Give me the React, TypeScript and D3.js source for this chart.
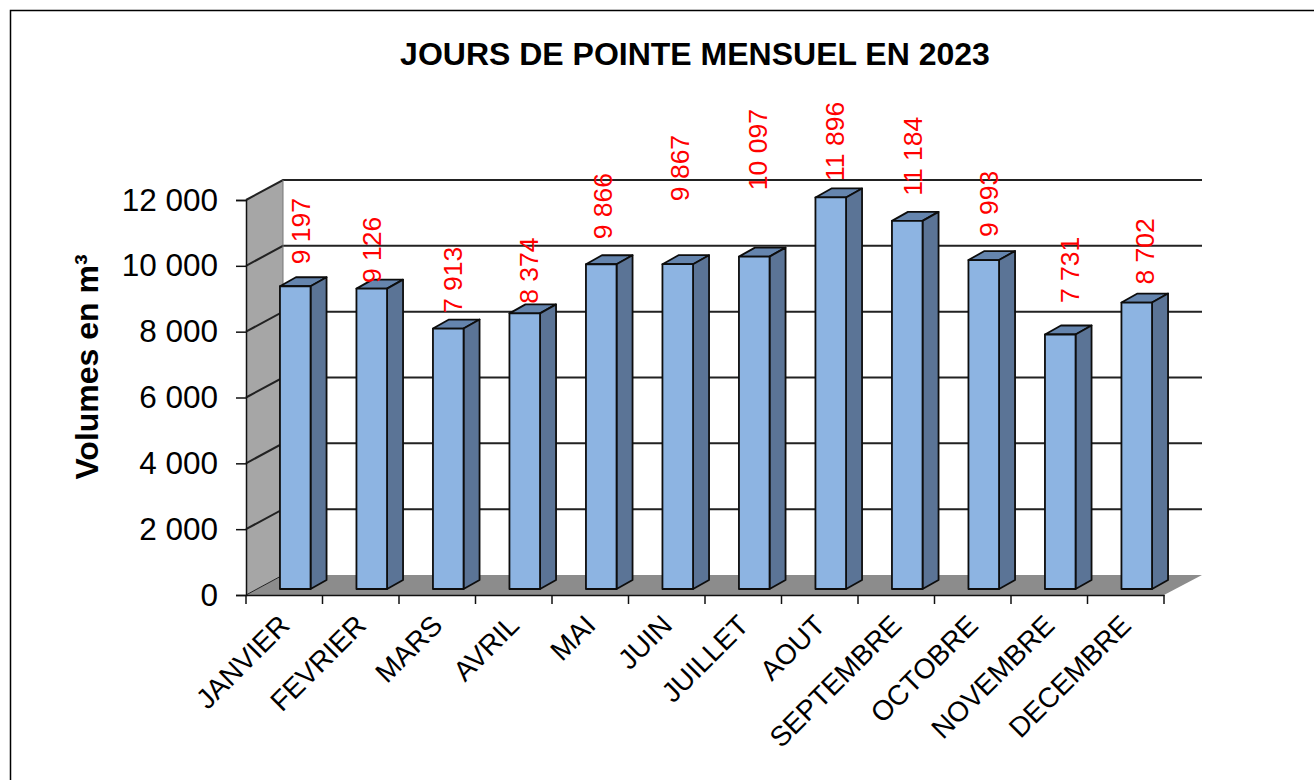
import React, { useEffect, useRef } from "react";
import * as d3 from "d3";

const months = ["JANVIER", "FEVRIER", "MARS", "AVRIL", "MAI", "JUIN", "JUILLET", "AOUT", "SEPTEMBRE", "OCTOBRE", "NOVEMBRE", "DECEMBRE"];
const volumes = [9197, 9126, 7913, 8374, 9866, 9867, 10097, 11896, 11184, 9993, 7731, 8702];
const volumeLabels = ["9 197", "9 126", "7 913", "8 374", "9 866", "9 867", "10 097", "11 896", "11 184", "9 993", "7 731", "8 702"];
const yTicks = [0, 2000, 4000, 6000, 8000, 10000, 12000];

// the labels were placed by hand in the original, so they do not follow the bars
const labelShiftX = [6.75, 1.25, 5.25, 5.25, 2.25, 2.75, 4.25, 5.25, 6.75, 6.25, 10.75, 9.25];
const labelShiftY = [-22, -5.5, -15.5, -9.5, -25, -63, -66.5, -16.5, -25, -23, -31.5, -18];

const FONT = "'Liberation Sans', Arial, sans-serif";

export default function App() {
  const ref = useRef<SVGSVGElement>(null);

  useEffect(() => {
    const svg = d3.select(ref.current);
    svg.selectAll("*").remove();

    const left = 246, right = 1164, bottom = 595, top = 200;
    const depthX = 37, depthY = 20;        // wall and floor depth
    const barInX = 11, barInY = 6;         // bars stand a little inside the floor
    const barDepthX = 16, barDepthY = 9;

    const x = d3.scaleBand<string>().domain(months).range([left, right]).paddingInner(0.6).paddingOuter(0.3);
    const slot = d3.scaleBand<string>().domain(months).range([left, right]);
    const y = d3.scaleLinear().domain([0, 12000]).range([bottom, top]);
    const pts = (p: number[][]) => p.map(d => d.join(",")).join(" ");

    // outer frame
    svg.append("path").attr("d", "M10.5,780V10.5H1314").attr("fill", "none").attr("stroke", "#000").attr("stroke-width", 1.5);

    // walls
    svg.append("polygon")
      .attr("points", pts([[left, bottom], [left + depthX, bottom - depthY], [left + depthX, top - depthY], [left, top]]))
      .attr("fill", "#a6a6a6");
    svg.append("polygon")
      .attr("points", pts([[left, bottom], [right, bottom], [right + depthX + 1, bottom - depthY], [left + depthX, bottom - depthY]]))
      .attr("fill", "#8c8c8c");

    // gridlines on the back wall and side wall
    svg.append("g").selectAll("path").data(yTicks.slice(1)).join("path")
      .attr("d", d => `M${left},${y(d)}L${left + depthX},${y(d) - depthY}H${right + depthX + 1}`)
      .attr("fill", "none").attr("stroke", "#222").attr("stroke-width", 2);
    svg.append("line")
      .attr("x1", left).attr("y1", bottom).attr("x2", left + depthX).attr("y2", bottom - depthY)
      .attr("stroke", "#222").attr("stroke-width", 1);
    svg.append("line")
      .attr("x1", left + depthX).attr("y1", top - depthY).attr("x2", left + depthX).attr("y2", bottom - depthY)
      .attr("stroke", "#777").attr("stroke-width", 1);

    // axes
    const yAxis = svg.append("g").attr("transform", `translate(${left},0)`)
      .call(d3.axisLeft(y).tickValues(yTicks).tickSize(10).tickPadding(18)
        .tickFormat(d => d3.format(",")(d as number).replace(",", " ")));
    yAxis.selectAll(".domain").attr("stroke", "#111").attr("stroke-width", 1.5);
    yAxis.selectAll(".tick line").attr("stroke", "#111").attr("stroke-width", 1.5);
    yAxis.selectAll(".tick text").attr("font-family", FONT).attr("font-size", 31.5).attr("fill", "#000");

    const xAxis = svg.append("g").attr("transform", `translate(0,${bottom})`)
      .call(d3.axisBottom(slot).tickValues([]).tickSizeOuter(0));
    xAxis.selectAll(".domain").attr("stroke", "#111").attr("stroke-width", 1.5);
    const edges = d3.range(months.length + 1).map(i => left + i * slot.step());
    svg.append("g").selectAll("line").data(edges).join("line")
      .attr("x1", d => d).attr("x2", d => d).attr("y1", bottom).attr("y2", bottom + 9)
      .attr("stroke", "#111").attr("stroke-width", 1.5);

    svg.append("g").selectAll("text").data(months).join("text")
      .attr("transform", m => `translate(${(slot(m) as number) + slot.bandwidth() / 2 + 7},${bottom + 32}) rotate(-45)`)
      .attr("text-anchor", "end")
      .attr("font-family", FONT).attr("font-size", 28).attr("fill", "#000")
      .text(m => m);

    // bars
    const bars = svg.append("g").selectAll("g").data(months).join("g")
      .attr("transform", m => `translate(${(x(m) as number) + barInX},${-barInY})`);
    const w = x.bandwidth();
    const barStyle = (s: any) => s.attr("stroke", "#0d0d0d").attr("stroke-width", 1.8).attr("stroke-linejoin", "round");

    bars.append("polygon").call(barStyle).attr("fill", "#6585ae")
      .attr("points", (_m, i) => pts([[0, y(volumes[i])], [barDepthX, y(volumes[i]) - barDepthY], [w + barDepthX, y(volumes[i]) - barDepthY], [w, y(volumes[i])]]));
    bars.append("polygon").call(barStyle).attr("fill", "#5b7496")
      .attr("points", (_m, i) => pts([[w, y(volumes[i])], [w + barDepthX, y(volumes[i]) - barDepthY], [w + barDepthX, bottom - barDepthY], [w, bottom]]));
    bars.append("rect").call(barStyle).attr("fill", "#8db4e2")
      .attr("x", 0).attr("width", w)
      .attr("y", (_m, i) => y(volumes[i])).attr("height", (_m, i) => bottom - y(volumes[i]));

    // value labels
    svg.append("g").selectAll("text").data(months).join("text")
      .attr("transform", (m, i) => `translate(${(x(m) as number) + barInX + w / 2 + labelShiftX[i] - 1},${y(volumes[i]) - barInY + labelShiftY[i]}) rotate(-90)`)
      .attr("dy", "0.35em")
      .attr("font-family", FONT).attr("font-size", 26.5).attr("fill", "#ff0000")
      .text((_m, i) => volumeLabels[i]);

    // titles
    svg.append("text").attr("x", 695).attr("y", 65).attr("text-anchor", "middle")
      .attr("font-family", FONT).attr("font-weight", "bold").attr("font-size", 32).attr("fill", "#000")
      .text("JOURS DE POINTE MENSUEL EN 2023");
    svg.append("text").attr("transform", "translate(98,367) rotate(-90)").attr("text-anchor", "middle")
      .attr("font-family", FONT).attr("font-weight", "bold").attr("font-size", 32).attr("fill", "#000")
      .text("Volumes en m³");
  }, []);

  return <svg ref={ref} width={1314} height={780} style={{ position: "absolute", left: 0, top: 0, background: "#fff" }} />;
}
